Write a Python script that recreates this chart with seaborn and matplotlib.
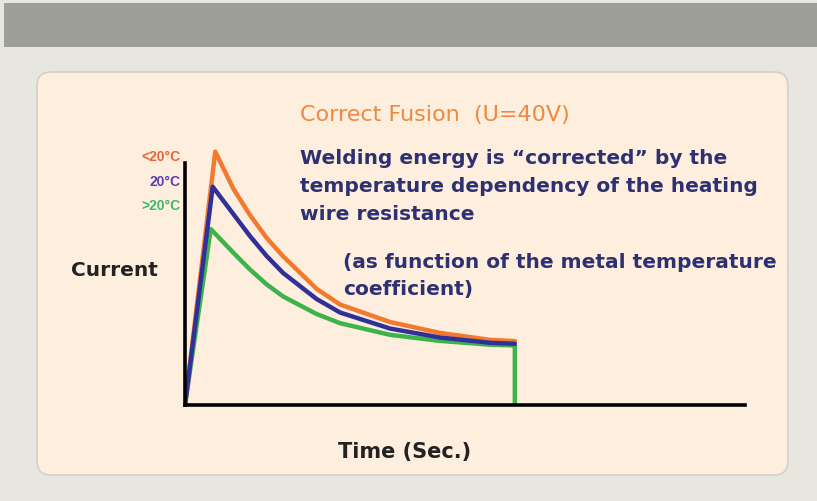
import matplotlib.pyplot as plt
import pandas as pd
import seaborn as sns
from matplotlib.patches import FancyBboxPatch, Rectangle

# values (arbitrary units, both axes end at 100)
time_cold = [0, 5.4, 8.6, 11.6, 14.6, 17.5, 23.5, 27.7, 36.6, 45.5, 54.5, 58.9]
current_cold = [0, 104.7, 89.5, 78.5, 69.0, 61.5, 48.0, 41.5, 34.3, 29.8, 26.9, 26.4]

time_room = [0, 4.95, 8.6, 11.6, 14.6, 17.55, 23.5, 27.7, 36.6, 45.5, 54.5, 58.9]
current_room = [0, 90.2, 79.0, 69.8, 61.5, 54.5, 43.8, 38.2, 31.6, 27.9, 25.7, 25.3]

# warm curve ends with the drop to zero at the end of the fusion time
time_warm = [0, 4.6, 8.6, 11.6, 14.6, 17.55, 23.5, 27.7, 36.6, 45.5, 54.5, 58.9, 58.9]
current_warm = [0, 72.7, 63.0, 56.0, 49.8, 44.8, 37.6, 33.8, 29.0, 26.5, 24.9, 24.6, 0]

temp_labels = ["<20°C", "20°C", ">20°C"]
line_colors = {"<20°C": "#f27a2e", "20°C": "#30309a", ">20°C": "#3cb44b"}
label_colors = {"<20°C": "#e8643c", "20°C": "#5a40ae", ">20°C": "#3dba6a"}

df = pd.concat([
    pd.DataFrame({"time": time_cold, "current": current_cold, "temp": "<20°C"}),
    pd.DataFrame({"time": time_room, "current": current_room, "temp": "20°C"}),
    pd.DataFrame({"time": time_warm, "current": current_warm, "temp": ">20°C"}),
])

sns.set_theme(style="white")
plt.rcParams["font.family"] = ["DejaVu Sans"]

fig = plt.figure(figsize=(8.17, 5.01), dpi=100)
fig.patch.set_facecolor("#e8e7df")

# background layer in pixel units
bg = fig.add_axes([0, 0, 1, 1])
bg.set_xlim(0, 817)
bg.set_ylim(501, 0)
bg.axis("off")
bg.add_patch(Rectangle((4, 3), 813, 44, color="#9e9f98", lw=0))
bg.add_patch(FancyBboxPatch((37, 72), 751, 403,
                            boxstyle="round,pad=0,rounding_size=14",
                            fc="#fdeedd", ec="#d4d1c9", lw=1.2))

navy = "#2d3172"
bg.text(300, 115, "Correct Fusion  (U=40V)", color="#ec8a42",
        fontsize=16, va="center", ha="left")
body = [
    (300, 158, "Welding energy is \u201ccorrected\u201d by the"),
    (300, 187, "temperature dependency of the heating"),
    (300, 215, "wire resistance"),
    (343, 262, "(as function of the metal temperature"),
    (343, 290, "coefficient)"),
]
for px, py, line in body:
    bg.text(px, py, line, color=navy, fontsize=14.5, fontweight="bold",
            va="center", ha="left")

bg.text(114, 271, "Current", color="#222222", fontsize=14.5,
        fontweight="bold", ha="center", va="center")
bg.text(405, 452, "Time (Sec.)", color="#222222", fontsize=15,
        fontweight="bold", ha="center", va="center")

for lab, py in zip(temp_labels, [157, 182, 206]):
    bg.text(181, py, lab, family="Liberation Sans", color=label_colors[lab],
            fontsize=10, fontweight="bold", ha="right", va="center")

# the chart itself
ax = fig.add_axes([185 / 817, 96 / 501, 560 / 817, 265 / 501])
ax.patch.set_alpha(0)
sns.lineplot(data=df, x="time", y="current", hue="temp",
             hue_order=[">20°C", "<20°C", "20°C"], palette=line_colors,
             sort=False, estimator=None, legend=False, lw=3.2,
             solid_joinstyle="round", ax=ax)
ax.set_xlim(0, 100)
ax.set_ylim(0, 109.5)
ax.set_xticks([])
ax.set_yticks([])
ax.set_xlabel("")
ax.set_ylabel("")
for side in ["top", "right"]:
    ax.spines[side].set_visible(False)
for side in ["left", "bottom"]:
    ax.spines[side].set_color("black")
    ax.spines[side].set_linewidth(2.6)
    ax.spines[side].set_bounds(0, 100)
    ax.spines[side].set_capstyle("projecting")

fig.savefig("out.png", dpi=100, facecolor=fig.get_facecolor())
